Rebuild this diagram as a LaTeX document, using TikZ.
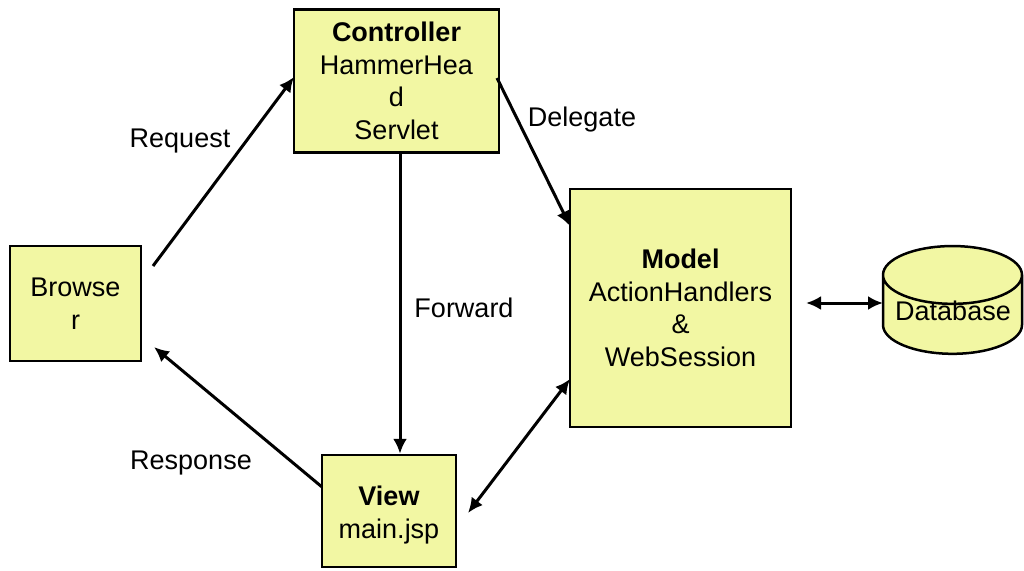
\documentclass[tikz,border=0pt]{standalone}
\usepackage{fontspec}
\setmainfont{Liberation Sans}
\usetikzlibrary{arrows.meta,shapes.geometric}
\definecolor{boxfill}{RGB}{242,247,163}
\begin{document}
\begin{tikzpicture}[x=1pt,y=-1pt,
  box/.style={draw=black,line width=2.5pt,fill=boxfill,inner sep=0pt,align=center,font=\fontsize{27}{32.5}\selectfont},
  conn/.style={line width=3pt,-{Latex[length=15pt,width=14pt]}},
  biconn/.style={line width=3pt,{Latex[length=15pt,width=14pt]}-{Latex[length=15pt,width=14pt]}},
  lbl/.style={font=\fontsize{27}{32}\selectfont,inner sep=0pt}]
\useasboundingbox (0,0) rectangle (1024,570);
\node[box,minimum width=131pt,minimum height=115pt] (browser) at (75.5,303.5) {Browse\\r};
\node[box,minimum width=205pt,minimum height=143pt] (ctrl) at (396.5,81) {\textbf{Controller}\\HammerHea\\d\\Servlet};
\node[box,minimum width=221pt,minimum height=238pt] (model) at (680.5,308) {\textbf{Model}\\ActionHandlers\\\&\\WebSession};
\node[box,minimum width=134pt,minimum height=112pt] (view) at (389,511) {\rule{0pt}{28pt}\textbf{View}\\main.jsp};
\node[cylinder,shape border rotate=90,aspect=0.5,draw=black,line width=2.5pt,fill=boxfill,minimum width=139pt,minimum height=95pt,inner sep=0pt,font=\fontsize{27}{32}\selectfont] (db) at (952.5,315) {\phantom{Database}};
\node[lbl] (dbtext) at (953,311) {Database};
% endpoints
\coordinate (rqs) at (153,266);
\coordinate (rqe) at (294,77);
\coordinate (dls) at (497,78);
\coordinate (dle) at (570,226);
\coordinate (rss) at (322,487);
\coordinate (rse) at (154,347);
\coordinate (vms) at (468,513);
\coordinate (vme) at (570,379);
\coordinate (mds) at (806,303);
\coordinate (mde) at (883,303);
\draw[conn] (rqs) -- (rqe);
\draw[conn] (dls) -- (dle);
\draw[conn] (ctrl.south -| 400,0) -- (view.north -| 400,0);
\draw[conn] (rss) -- (rse);
\draw[biconn] (vms) -- (vme);
\draw[biconn] (mds) -- (mde);
\node[lbl] (lreq) at (180,141) {Request};
\node[lbl] (ldel) at (582,120) {Delegate};
\node[lbl] (lfwd) at (464,308) {Forward};
\node[lbl] (lres) at (191,463) {Response};
\end{tikzpicture}
\end{document}
